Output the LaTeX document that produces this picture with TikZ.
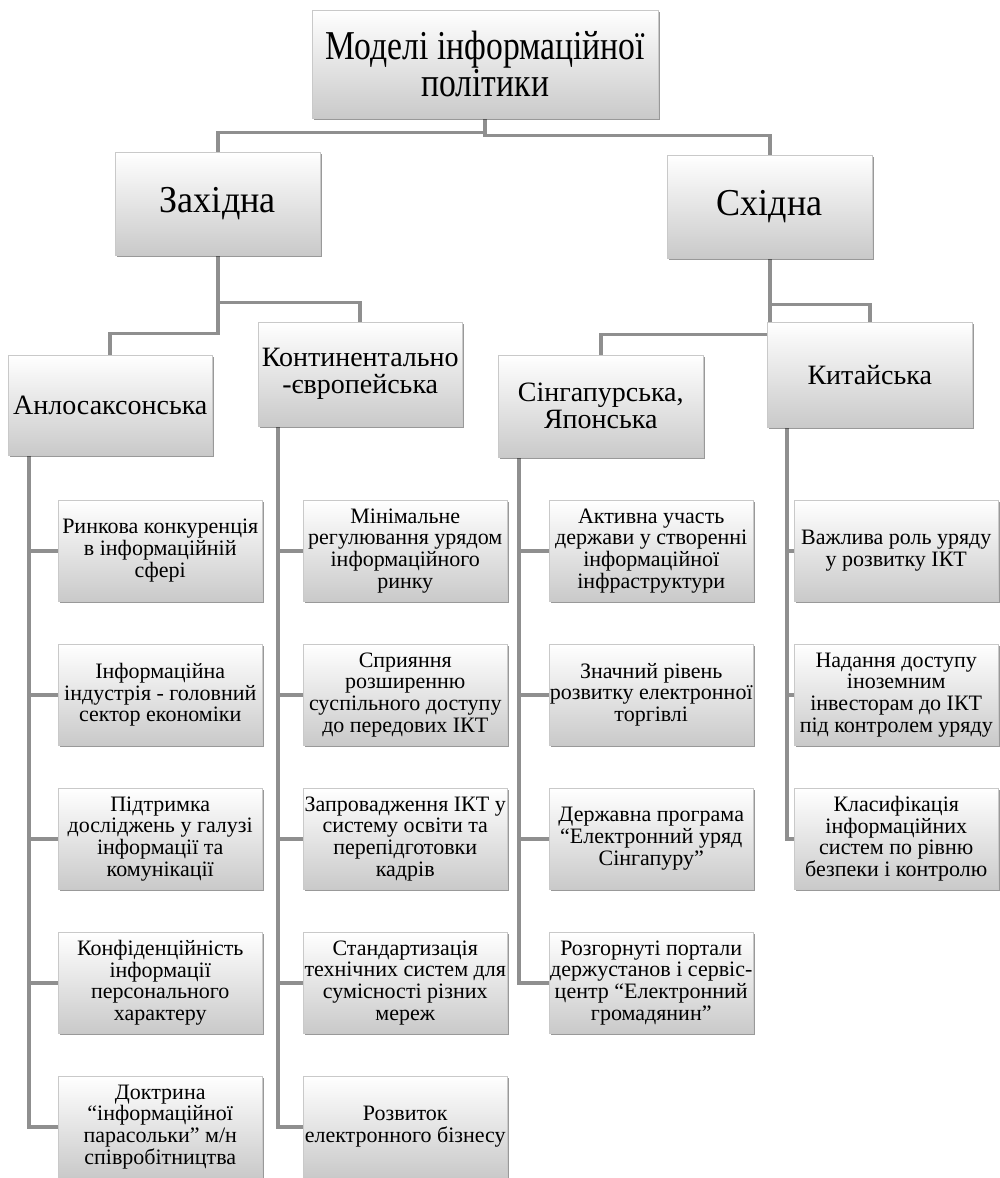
\documentclass[tikz,border=0pt]{standalone}
\usepackage{fontspec}
\setmainfont{Liberation Serif}
\newfontfamily\titlefont[FakeStretch=0.82]{Liberation Serif}
\newfontfamily\lvlfont[FakeStretch=0.95]{Liberation Serif}
\usetikzlibrary{shadows}
\pgfdeclarelayer{bg}
\pgfsetlayers{bg,main}
\begin{document}
\begin{tikzpicture}[x=1pt,y=-1pt,
  box/.style={draw=gray!42, line width=0.5pt, top color=white, bottom color=gray!42,
    drop shadow={shadow xshift=2pt, shadow yshift=-2.2pt, fill=black, opacity=0.4},
    inner sep=0pt, align=center, anchor=north west},
  leaf/.style={box, minimum width=204pt, minimum height=101pt, font=\fontsize{22}{21.7}\selectfont},
  midbox/.style={box, minimum width=204pt, font=\fontsize{28}{27}\selectfont},
  lvlbox/.style={box, minimum width=205pt, minimum height=103pt, font=\lvlfont\fontsize{38}{36}\selectfont},
  conn/.style={draw=black!44, line width=3.6pt}]
\useasboundingbox (0,0) rectangle (1000,1178);

% root
\node[box, minimum width=346pt, minimum height=108pt, font=\titlefont\fontsize{41}{37}\selectfont] (root) at (312,10) {Моделі інформаційної\\політики};

% level 1
\node[lvlbox] (west) at (115,152) {Західна};
\node[lvlbox] (east) at (667,155) {Східна};

% level 2
\node[midbox, minimum height=100pt] (anglo) at (8,355) {Анлосаксонська};
\node[midbox, minimum height=104pt] (cont) at (258,322) {Континентально\\-європейська};
\node[midbox, minimum height=102pt, minimum width=205pt] (sing) at (498,355) {Сінгапурська,\\Японська};
\node[midbox, minimum height=105pt, minimum width=205pt] (china) at (767,322) {Китайська};

% column A
\node[leaf] (a1) at (58,500) {Ринкова конкуренція\\в інформаційній\\сфері};
\node[leaf] (a2) at (58,644) {Інформаційна\\індустрія - головний\\сектор економіки};
\node[leaf] (a3) at (58,788) {Підтримка\\досліджень у галузі\\інформації та\\комунікації};
\node[leaf] (a4) at (58,932) {Конфіденційність\\інформації\\персонального\\характеру};
\node[leaf] (a5) at (58,1076) {Доктрина\\“інформаційної\\парасольки” м/н\\співробітництва};

% column B
\node[leaf] (b1) at (303,500) {Мінімальне\\регулювання урядом\\інформаційного\\ринку};
\node[leaf] (b2) at (303,644) {Сприяння\\розширенню\\суспільного доступу\\до передових ІКТ};
\node[leaf] (b3) at (303,788) {Запровадження ІКТ у\\систему освіти та\\перепідготовки\\кадрів};
\node[leaf] (b4) at (303,932) {Стандартизація\\технічних систем для\\сумісності різних\\мереж};
\node[leaf] (b5) at (303,1076) {Розвиток\\електронного бізнесу};

% column C
\node[leaf] (c1) at (549,500) {Активна участь\\держави у створенні\\інформаційної\\інфраструктури};
\node[leaf] (c2) at (549,644) {Значний рівень\\розвитку електронної\\торгівлі};
\node[leaf] (c3) at (549,788) {Державна програма\\“Електронний уряд\\Сінгапуру”};
\node[leaf] (c4) at (549,932) {Розгорнуті портали\\держустанов і сервіс-\\центр “Електронний\\громадянин”};

% column D
\node[leaf] (d1) at (794,500) {Важлива роль уряду\\у розвитку ІКТ};
\node[leaf] (d2) at (794,644) {Надання доступу\\іноземним\\інвесторам до ІКТ\\під контролем уряду};
\node[leaf] (d3) at (794,788) {Класифікація\\інформаційних\\систем по рівню\\безпеки і контролю};

\begin{pgfonlayer}{bg}
  \draw[conn] (root.south) -- ++(0,14) -| (west.north);
  \draw[conn] (root.south) -- ++(0,17) -| (east.north);
  \draw[conn] (west.south) -- ++(0,47) -| (cont.north);
  \draw[conn] (west.south) -- ++(0,78) -| (anglo.north);
  \draw[conn] (east.south) -- ++(0,46) -| (china.north);
  \draw[conn] (east.south) -- ++(0,76) -| (sing.north);
  \foreach \i in {1,...,5} {\draw[conn] ([xshift=21pt]anglo.south west) |- (a\i.west);}
  \foreach \i in {1,...,5} {\draw[conn] ([xshift=20pt]cont.south west) |- (b\i.west);}
  \foreach \i in {1,...,4} {\draw[conn] ([xshift=21pt]sing.south west) |- (c\i.west);}
  \foreach \i in {1,...,3} {\draw[conn] ([xshift=20pt]china.south west) |- (d\i.west);}
\end{pgfonlayer}
\end{tikzpicture}
\end{document}
